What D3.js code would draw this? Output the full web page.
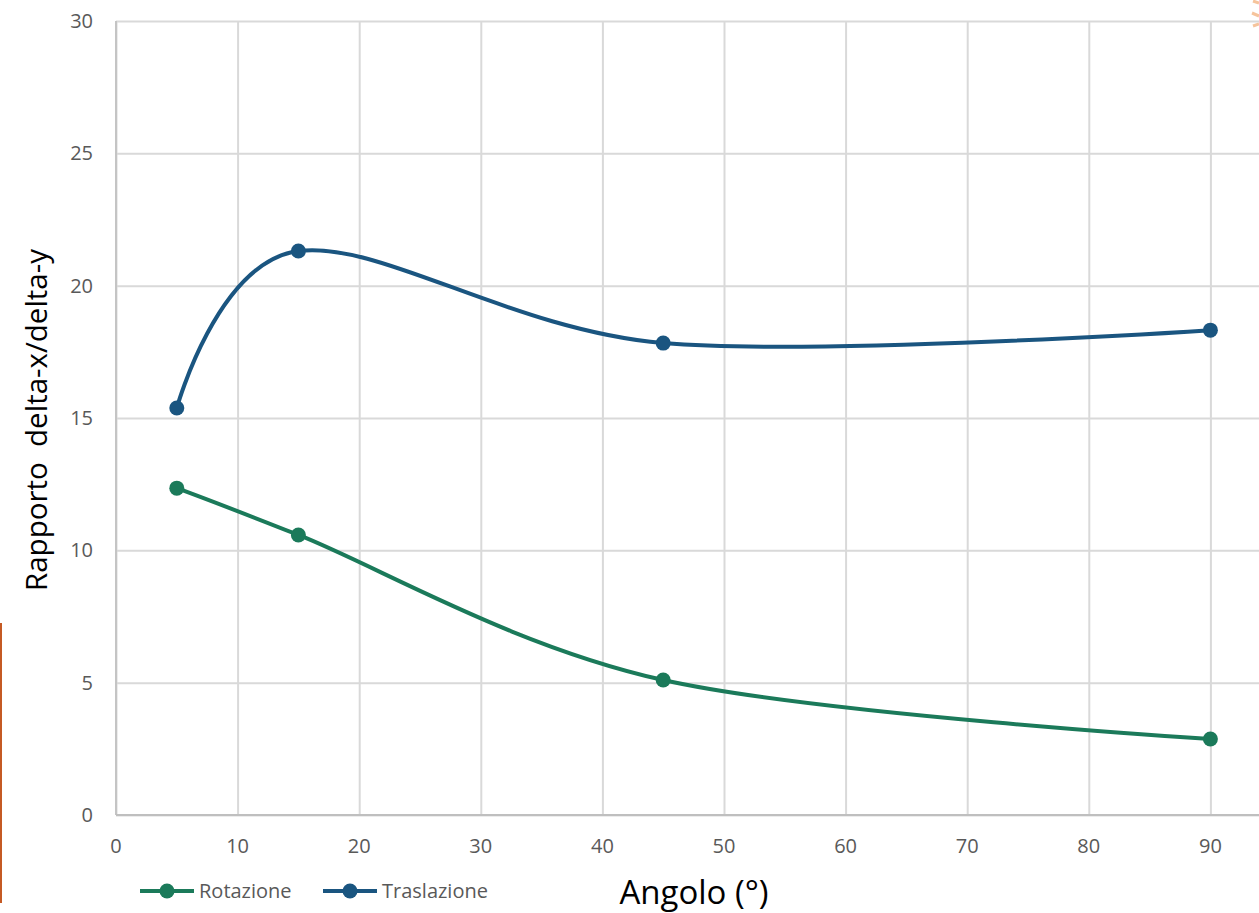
<!DOCTYPE html>
<html>
<head>
<meta charset="utf-8">
<script src="https://cdn.jsdelivr.net/npm/d3@7"></script>
<style>
  body { margin: 0; background: #fff; }
  svg { display: block; font-family: "Open Sans", Lato, sans-serif; }
</style>
</head>
<body>
<svg id="chart" width="1259" height="913"></svg>
<script>
// data
const angles = [5, 15, 45, 90];
const rotazione = [12.35, 10.58, 5.10, 2.87];
const traslazione = [15.38, 21.31, 17.83, 18.32];
const seriesNames = ['Rotazione', 'Traslazione'];
const xTicks = [0, 10, 20, 30, 40, 50, 60, 70, 80, 90, 100];
const yTicks = [0, 5, 10, 15, 20, 25, 30];

const colors = ['#1b7a5a', '#1a5580'];
const svg = d3.select('#chart');

// scales (plot area runs past the right edge like the original crop)
const x = d3.scaleLinear().domain([0, 100]).range([116, 1332]);
const y = d3.scaleLinear().domain([0, 30]).range([815, 21]);

// gridlines
svg.append('g')
  .attr('transform', 'translate(0,815)')
  .call(d3.axisBottom(x).tickValues(xTicks).tickSize(-794).tickFormat(''))
  .call(g => g.select('.domain').remove())
  .selectAll('line').attr('stroke', '#d9d9d9').attr('stroke-width', 2);

svg.append('g')
  .attr('transform', 'translate(116,0)')
  .call(d3.axisLeft(y).tickValues(yTicks).tickSize(-1216).tickFormat(''))
  .call(g => g.select('.domain').remove())
  .selectAll('line').attr('stroke', '#d9d9d9').attr('stroke-width', 2);

// axis lines
svg.append('line').attr('x1', 116).attr('x2', 116).attr('y1', y(30)).attr('y2', y(0))
  .attr('stroke', '#c4c4c4').attr('stroke-width', 2);
svg.append('line').attr('x1', 116).attr('x2', 1259).attr('y1', y(0)).attr('y2', y(0))
  .attr('stroke', '#bfbfbf').attr('stroke-width', 2);

// tick labels
svg.append('g').selectAll('text')
  .data(xTicks.filter(d => d <= 90))
  .enter().append('text')
  .attr('x', d => x(d))
  .attr('y', 853)
  .attr('text-anchor', 'middle')
  .attr('fill', '#595959')
  .style('font-size', '20px')
  .text(d => d);

svg.append('g').selectAll('text')
  .data(yTicks)
  .enter().append('text')
  .attr('x', 93)
  .attr('y', d => y(d) + 7)
  .attr('text-anchor', 'end')
  .attr('fill', '#595959')
  .style('font-size', '20px')
  .text(d => d);

// axis titles
svg.append('text')
  .attr('transform', 'translate(47,420) rotate(-90)')
  .attr('text-anchor', 'middle')
  .attr('fill', '#000')
  .style('font-size', '29.5px')
  .style('white-space', 'pre')
  .text('Rapporto  delta-x/delta-y');

svg.append('text')
  .attr('x', 694)
  .attr('y', 904)
  .attr('text-anchor', 'middle')
  .attr('fill', '#000')
  .style('font-size', '33px')
  .text('Angolo (°)');

// series
const series = [rotazione, traslazione];
const line = d3.line()
  .x((d, i) => x(angles[i]))
  .y(d => y(d))
  .curve(d3.curveCardinal.tension(0));

series.forEach((vals, s) => {
  svg.append('path')
    .datum(vals)
    .attr('fill', 'none')
    .attr('stroke', colors[s])
    .attr('stroke-width', 4)
    .attr('d', line);
  svg.append('g').selectAll('circle')
    .data(vals)
    .enter().append('circle')
    .attr('cx', (d, i) => x(angles[i]))
    .attr('cy', d => y(d))
    .attr('r', 7.5)
    .attr('fill', colors[s]);
});

// legend
const legendX = [140, 323];
seriesNames.forEach((name, s) => {
  const g = svg.append('g').attr('transform', `translate(${legendX[s]},891)`);
  g.append('line').attr('x1', 0).attr('x2', 54).attr('y1', 0).attr('y2', 0)
    .attr('stroke', colors[s]).attr('stroke-width', 4);
  g.append('circle').attr('cx', 27).attr('cy', 0).attr('r', 7.5).attr('fill', colors[s]);
  g.append('text').attr('x', 59).attr('y', 7)
    .attr('fill', '#595959').style('font-size', '20px').text(name);
});

// orange fragments at the edges of the crop
svg.append('line').attr('x1', 1).attr('x2', 1).attr('y1', 623).attr('y2', 903)
  .attr('stroke', '#c55a24').attr('stroke-width', 2);
const peach = svg.append('g').attr('stroke', '#f6c49c').attr('stroke-width', 3);
peach.append('line').attr('x1', 1253).attr('y1', 1).attr('x2', 1259).attr('y2', 3);
peach.append('line').attr('x1', 1252).attr('y1', 13).attr('x2', 1259).attr('y2', 16);
peach.append('line').attr('x1', 1253).attr('y1', 26).attr('x2', 1259).attr('y2', 24);
</script>
</body>
</html>
